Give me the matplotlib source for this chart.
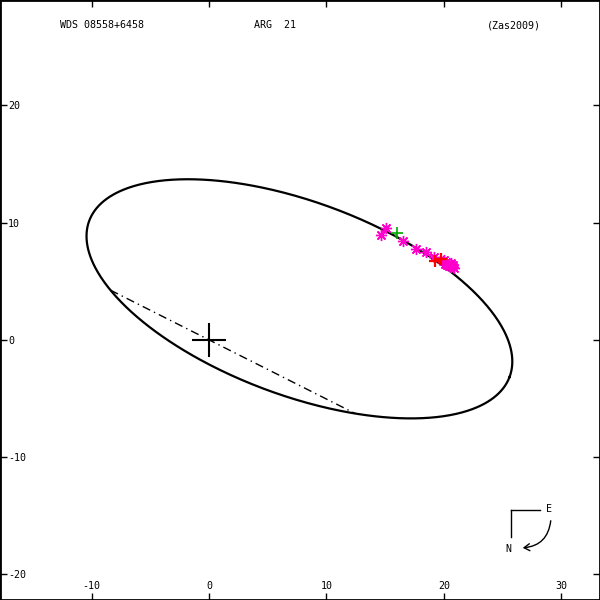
import numpy as np
import matplotlib
matplotlib.use("Agg")
import matplotlib.pyplot as plt
from matplotlib.patches import FancyArrowPatch

# ---- data ----
title_left = "WDS 08558+6458"
title_mid = "ARG  21"
title_right = "(Zas2009)"

x_ticks = [-10, 0, 10, 20, 30]
y_ticks = [-20, -10, 0, 10, 20]
x_lim = (-17.8, 33.3)
y_lim = (-22.2, 29.0)

# apparent orbit ellipse (center, semi-axes, tilt in degrees)
ell_center = (7.7, 3.5)
ell_a = 19.1
ell_b = 8.25
ell_tilt = -20.4
node_angle_deg = 153.2   # direction of line of nodes through origin

# observations (magenta asterisks)
obs_x = [15.08, 14.65, 16.56, 17.65, 18.51, 19.13,
         19.97, 20.2, 20.4, 20.57, 20.74, 20.9, 20.3, 20.6, 20.1, 20.8, 20.45, 20.0]
obs_y = [9.55, 8.97, 8.40, 7.75, 7.50, 7.03,
         6.75, 6.67, 6.50, 6.41, 6.24, 6.15, 6.40, 6.60, 6.50, 6.35, 6.30, 6.85]
# green plus
green_x = [16.02]
green_y = [9.15]
# red plus
red_x = [19.28, 19.79]
red_y = [6.75, 6.90]

FS = 7.2
MONO = "DejaVu Sans Mono"

# ---- geometry helpers ----
th = np.radians(ell_tilt)
ct, st = np.cos(th), np.sin(th)


def ellipse_pts(n=600):
    t = np.linspace(0, 2 * np.pi, n)
    u = ell_a * np.cos(t)
    v = ell_b * np.sin(t)
    return ell_center[0] + u * ct - v * st, ell_center[1] + u * st + v * ct


def nearest_on_ellipse(px, py):
    ex, ey = ellipse_pts(4000)
    i = np.argmin((ex - px) ** 2 + (ey - py) ** 2)
    return ex[i], ey[i]


def node_ends():
    phi = np.radians(node_angle_deg)
    d = np.array([np.cos(phi), np.sin(phi)])
    c = np.array(ell_center)
    R = np.array([[ct, st], [-st, ct]])
    d2 = R @ d
    o2 = R @ (-c)
    A = (d2[0] / ell_a) ** 2 + (d2[1] / ell_b) ** 2
    B = 2 * (o2[0] * d2[0] / ell_a ** 2 + o2[1] * d2[1] / ell_b ** 2)
    C = (o2[0] / ell_a) ** 2 + (o2[1] / ell_b) ** 2 - 1
    disc = np.sqrt(B * B - 4 * A * C)
    s1 = (-B + disc) / (2 * A)
    s2 = (-B - disc) / (2 * A)
    return [s1 * d[0], s2 * d[0]], [s1 * d[1], s2 * d[1]]


fig = plt.figure(figsize=(6, 6), dpi=100)
ax = fig.add_axes([0, 0, 1, 1])
ax.set_xlim(*x_lim)
ax.set_ylim(*y_lim)

ex, ey = ellipse_pts()
ax.plot(ex, ey, color="black", lw=1.6, zorder=2)

nx, ny = node_ends()
ax.plot(nx, ny, color="black", lw=1.0, ls=(0, (6, 3, 1, 3)), zorder=2)

# central star
ax.plot([0], [0], marker="+", color="black", ms=24, mew=1.5, zorder=3)

ast = (8, 2, 0)
for x, y in zip(obs_x, obs_y):
    qx, qy = nearest_on_ellipse(x, y)
    ax.plot([x, qx], [y, qy], color="#ff00cc", lw=1, zorder=3)
ax.plot(obs_x, obs_y, ls="none", marker=ast, color="#ff00cc", ms=8, mew=1, zorder=4)
for x, y in zip(green_x, green_y):
    qx, qy = nearest_on_ellipse(x, y)
    ax.plot([x, qx], [y, qy], color="#00aa00", lw=1, zorder=3)
ax.plot(green_x, green_y, ls="none", marker="+", color="#00aa00", ms=8, mew=1.2, zorder=4)
for x, y in zip(red_x, red_y):
    qx, qy = nearest_on_ellipse(x, y)
    ax.plot([x, qx], [y, qy], color="red", lw=1.5, zorder=3)
ax.plot(red_x, red_y, ls="none", marker="+", color="red", ms=9, mew=1.6, zorder=5)

# ticks inside, labels inside
ax.set_xticks(x_ticks)
ax.set_yticks(y_ticks)
ax.set_xticklabels([str(v) for v in x_ticks], fontfamily=MONO, fontsize=FS)
ax.set_yticklabels([str(v) for v in y_ticks], fontfamily=MONO, fontsize=FS)
ax.tick_params(axis="both", direction="in", length=5, width=1, top=True, right=True)
ax.tick_params(axis="x", pad=-13.5)
ax.tick_params(axis="y", pad=-5.8)
for lab in ax.get_yticklabels():
    lab.set_horizontalalignment("left")
for sp in ax.spines.values():
    sp.set_linewidth(2)

tf = dict(fontfamily=MONO, fontsize=FS, transform=ax.transAxes, va="center")
ax.text(0.10, 0.958, title_left, ha="left", **tf)
ax.text(0.458, 0.958, title_mid, ha="center", **tf)
ax.text(0.812, 0.958, title_right, ha="left", **tf)

# compass
t = ax.transAxes
ax.plot([511 / 600, 540 / 600], [1 - 510 / 600, 1 - 510 / 600], color="black", lw=1, transform=t)
ax.plot([511 / 600, 511 / 600], [1 - 510 / 600, 1 - 537 / 600], color="black", lw=1, transform=t)
ax.text(549 / 600, 1 - 509 / 600, "E", ha="center", **tf)
ax.text(508 / 600, 1 - 549 / 600, "N", ha="center", **tf)
arr = FancyArrowPatch((551 / 600, 1 - 518 / 600), (520 / 600, 1 - 548 / 600),
                      connectionstyle="arc3,rad=-0.45", arrowstyle="->,head_length=4,head_width=2.5",
                      color="black", lw=1, transform=t)
ax.add_patch(arr)

fig.savefig("out.png", dpi=100)
